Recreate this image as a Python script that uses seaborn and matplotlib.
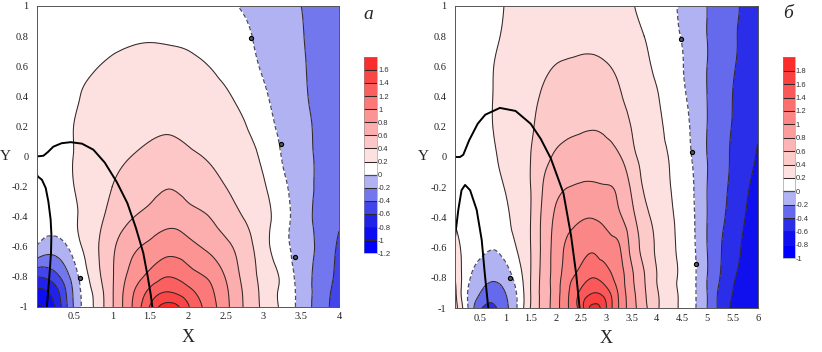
import numpy as np
import matplotlib
matplotlib.use("Agg")
import matplotlib.pyplot as plt
import matplotlib.tri as mtri
from matplotlib.colors import LinearSegmentedColormap
import seaborn as sns

# --- data ---
# grid rows (y) shared by both panels
y_rows = [-1.0, -0.9, -0.8, -0.6, -0.4, -0.2, 0.0, 0.2, 0.4, 0.6, 0.8, 1.0]

# panel a: x = 0 .. 4 step 0.25
x_a = [0, 0.25, 0.5, 0.75, 1.0, 1.25, 1.5, 1.75, 2.0, 2.25, 2.5, 2.75, 3.0, 3.25, 3.5, 3.75, 4.0]
field_a = [
    [-1.05, -0.78, -0.17, 0.20, 0.58, 0.98, 1.42, 1.70, 1.43, 1.14, 0.86, 0.58, 0.36, 0.155, -0.07, -0.30, -0.50],
    [-0.85, -0.68, -0.15, 0.22, 0.58, 0.95, 1.26, 1.40, 1.27, 1.08, 0.84, 0.57, 0.35, 0.15, -0.07, -0.29, -0.48],
    [-0.60, -0.47, -0.09, 0.28, 0.58, 0.87, 1.07, 1.20, 1.10, 0.99, 0.79, 0.54, 0.34, 0.16, -0.09, -0.27, -0.46],
    [-0.01, -0.10, 0.10, 0.34, 0.56, 0.75, 0.845, 0.92, 0.87, 0.77, 0.65, 0.49, 0.28, 0.07, -0.09, -0.25, -0.43],
    [0.08, 0.10, 0.18, 0.32, 0.46, 0.585, 0.665, 0.74, 0.675, 0.61, 0.50, 0.39, 0.265, 0.09, -0.11, -0.25, -0.37],
    [0.06, 0.12, 0.202, 0.30, 0.40, 0.47, 0.53, 0.59, 0.53, 0.47, 0.40, 0.31, 0.22, 0.05, -0.11, -0.24, -0.34],
    [0.05, 0.12, 0.205, 0.27, 0.34, 0.40, 0.445, 0.47, 0.43, 0.39, 0.32, 0.25, 0.165, -0.01, -0.13, -0.24, -0.34],
    [0.05, 0.12, 0.203, 0.24, 0.29, 0.34, 0.37, 0.38, 0.36, 0.32, 0.27, 0.21, 0.09, -0.05, -0.15, -0.24, -0.33],
    [0.06, 0.12, 0.185, 0.225, 0.26, 0.30, 0.32, 0.31, 0.29, 0.26, 0.22, 0.14, 0.03, -0.08, -0.17, -0.25, -0.32],
    [0.07, 0.12, 0.16, 0.19, 0.22, 0.24, 0.25, 0.245, 0.235, 0.205, 0.15, 0.07, -0.02, -0.10, -0.18, -0.25, -0.31],
    [0.07, 0.10, 0.13, 0.15, 0.17, 0.185, 0.19, 0.185, 0.17, 0.13, 0.08, 0.03, -0.05, -0.12, -0.19, -0.25, -0.30],
    [0.07, 0.09, 0.11, 0.13, 0.145, 0.155, 0.16, 0.155, 0.13, 0.09, 0.04, -0.02, -0.08, -0.14, -0.20, -0.25, -0.29],
]

# panel b: x = 0 .. 6 step 0.25
x_b = [0, 0.25, 0.5, 0.75, 1.0, 1.25, 1.5, 1.75, 2.0, 2.25, 2.5, 2.75, 3.0, 3.25, 3.5, 3.75,
       4.0, 4.25, 4.5, 4.75, 5.0, 5.25, 5.5, 5.75, 6.0]
field_b = [
    [0.50, 0.02, -0.37, -0.44, -0.26, 0.03, 0.41, 0.67, 0.92, 1.20, 1.51, 1.88, 1.60, 1.19, 0.89, 0.66, 0.43, 0.29, 0.16, 0.02, -0.202, -0.45, -0.63, -0.70, -0.75],
    [0.45, 0.00, -0.20, -0.31, -0.20, 0.04, 0.40, 0.67, 0.91, 1.19, 1.45, 1.60, 1.49, 1.17, 0.87, 0.63, 0.42, 0.28, 0.16, 0.02, -0.202, -0.44, -0.60, -0.68, -0.73],
    [0.40, 0.05, -0.10, -0.17, -0.10, 0.10, 0.40, 0.67, 0.90, 1.14, 1.29, 1.40, 1.29, 1.11, 0.84, 0.61, 0.40, 0.28, 0.15, 0.02, -0.202, -0.40, -0.57, -0.66, -0.71],
    [0.28, 0.12, 0.05, 0.01, 0.08, 0.22, 0.40, 0.66, 0.88, 1.05, 1.13, 1.17, 1.10, 1.02, 0.74, 0.54, 0.37, 0.26, 0.14, 0.01, -0.202, -0.38, -0.52, -0.63, -0.69],
    [0.18, 0.12, 0.10, 0.10, 0.16, 0.27, 0.40, 0.65, 0.83, 0.93, 0.98, 0.99, 0.93, 0.83, 0.66, 0.47, 0.34, 0.24, 0.13, 0.00, -0.202, -0.35, -0.48, -0.60, -0.67],
    [0.12, 0.10, 0.10, 0.14, 0.21, 0.30, 0.40, 0.61, 0.75, 0.80, 0.82, 0.82, 0.81, 0.76, 0.57, 0.38, 0.29, 0.21, 0.11, -0.01, -0.202, -0.33, -0.45, -0.57, -0.65],
    [0.08, 0.09, 0.12, 0.18, 0.24, 0.32, 0.40, 0.53, 0.63, 0.68, 0.70, 0.71, 0.68, 0.62, 0.46, 0.34, 0.26, 0.19, 0.07, -0.03, -0.202, -0.32, -0.43, -0.54, -0.61],
    [0.07, 0.09, 0.13, 0.20, 0.26, 0.32, 0.38, 0.46, 0.52, 0.56, 0.58, 0.59, 0.57, 0.51, 0.395, 0.32, 0.24, 0.16, 0.06, -0.05, -0.202, -0.31, -0.41, -0.51, -0.58],
    [0.07, 0.09, 0.14, 0.20, 0.26, 0.31, 0.36, 0.42, 0.47, 0.50, 0.51, 0.51, 0.48, 0.42, 0.34, 0.27, 0.21, 0.13, 0.03, -0.07, -0.202, -0.30, -0.40, -0.48, -0.55],
    [0.07, 0.09, 0.13, 0.195, 0.25, 0.29, 0.33, 0.37, 0.405, 0.42, 0.43, 0.43, 0.41, 0.37, 0.31, 0.24, 0.17, 0.10, 0.01, -0.09, -0.202, -0.29, -0.38, -0.46, -0.53],
    [0.07, 0.09, 0.12, 0.17, 0.22, 0.26, 0.29, 0.32, 0.34, 0.355, 0.36, 0.36, 0.34, 0.31, 0.26, 0.20, 0.13, 0.06, -0.01, -0.10, -0.202, -0.28, -0.37, -0.44, -0.51],
    [0.07, 0.09, 0.12, 0.16, 0.205, 0.24, 0.27, 0.29, 0.31, 0.32, 0.32, 0.32, 0.30, 0.27, 0.215, 0.15, 0.09, 0.04, -0.03, -0.11, -0.202, -0.28, -0.36, -0.43, -0.50],
]

levels_a = [-1.2, -1.0, -0.8, -0.6, -0.4, -0.2, 0.0, 0.2, 0.4, 0.6, 0.8, 1.0, 1.2, 1.4, 1.6, 1.8]
levels_b = [-1.0, -0.8, -0.6, -0.4, -0.2, 0.0, 0.2, 0.4, 0.6, 0.8, 1.0, 1.2, 1.4, 1.6, 1.8, 2.0]

# thick black curves
curve1_a_x = [0, 0.09, 0.15, 0.22, 0.33, 0.45, 0.6, 0.75, 0.9, 1.06, 1.2, 1.31, 1.41, 1.47, 1.51, 1.53]
curve1_a_y = [0, 0.005, 0.03, 0.065, 0.088, 0.095, 0.085, 0.045, -0.04, -0.17, -0.31, -0.47, -0.64, -0.8, -0.92, -1.0]
curve2_a_x = [0.0, 0.02, 0.07, 0.12, 0.155, 0.185, 0.195, 0.19, 0.175, 0.155, 0.135]
curve2_a_y = [-0.12, -0.135, -0.155, -0.21, -0.3, -0.42, -0.52, -0.64, -0.75, -0.88, -1.0]
curve1_b_x = [0, 0.1, 0.165, 0.28, 0.45, 0.6, 0.89, 1.2, 1.5, 1.7, 1.9, 2.15, 2.3, 2.4, 2.47]
curve1_b_y = [0, 0.0, 0.015, 0.11, 0.22, 0.28, 0.325, 0.305, 0.22, 0.12, -0.01, -0.24, -0.52, -0.77, -1.0]
curve2_b_x = [0.0, 0.03, 0.066, 0.13, 0.2, 0.3, 0.43, 0.53, 0.59, 0.66]
curve2_b_y = [-0.53, -0.45, -0.35, -0.22, -0.185, -0.22, -0.35, -0.55, -0.77, -1.0]

# small "0" contour labels
zero_marks_a_x = [2.84, 3.23, 3.42, 0.58]
zero_marks_a_y = [0.79, 0.08, -0.67, -0.81]
zero_marks_b_x = [4.48, 4.69, 4.78, 1.09]
zero_marks_b_y = [0.78, 0.03, -0.71, -0.80]


def band_colors(levels):
    lv = np.array(levels)
    mids = (lv[:-1] + lv[1:]) / 2
    n_blue = int((mids < 0).sum())
    n_red = int((mids > 0.2).sum())
    blues = LinearSegmentedColormap.from_list(
        "b", ["#0000ff", "#1010ee", "#2a2ee8", "#6468ec", "#b0b2f2"])
    reds = LinearSegmentedColormap.from_list("r", ["#fde1e1", "#fa2c2c"])
    cols = [blues(t) for t in np.linspace(0, 1, n_blue)]
    cols.append("#ffffff")
    cols += [reds(t) for t in np.linspace(0, 1, n_red)]
    return cols


def smooth_field(xs, ys, zz):
    gx, gy = np.meshgrid(xs, ys)
    tri = mtri.Triangulation(gx.ravel(), gy.ravel())
    refiner = mtri.UniformTriRefiner(tri)
    return refiner.refine_field(np.asarray(zz, dtype=float).ravel(), subdiv=3)


def draw_panel(fig, ax, cax, xs, field, levels, c1, c2, marks, xmax, letter, letter_pos):
    tri_r, z_r = smooth_field(xs, y_rows, field)
    z_r = np.clip(z_r, levels[0] + 1e-3, levels[-1] - 1e-3)
    cf = ax.tricontourf(tri_r, z_r, levels=levels, colors=band_colors(levels))
    line_lv = levels[1:-1]
    styles = [(0, (3.5, 2)) if abs(v) < 1e-9 else "-" for v in line_lv]
    lcol = ["#4a4a66" if abs(v) < 1e-9 else "#332828" for v in line_lv]
    lw = [0.9 if abs(v) < 1e-9 else 0.75 for v in line_lv]
    cs = ax.tricontour(tri_r, z_r, levels=line_lv, colors=lcol,
                       linewidths=lw, linestyles=styles)

    ax.plot(c1[0], c1[1], color="black", lw=1.4, solid_capstyle="round")
    ax.plot(c2[0], c2[1], color="black", lw=1.4, solid_capstyle="round")
    ax.plot(marks[0], marks[1], "o", ms=3.0, mfc="#555555", mec="black", mew=0.8, ls="none")

    ax.set_xlim(0, xmax)
    ax.set_ylim(-1, 1)
    xt = np.arange(0, xmax + 0.01, 0.5)
    ax.set_xticks(xt)
    ax.set_xticklabels([""] + [f"{v:g}" for v in xt[1:]])
    yt = np.round(np.arange(-1, 1.01, 0.2), 1) + 0.0
    ax.set_yticks(yt)
    ax.set_yticklabels([f"{v:g}" for v in yt])
    ax.tick_params(direction="in", length=3, width=0.6, top=True, right=True,
                   labelsize=7.5, colors="#222222")
    ax.tick_params(axis="y", pad=6)
    ax.tick_params(axis="x", pad=4)
    for s in ax.spines.values():
        s.set_linewidth(0.7)
        s.set_color("#555555")

    ax.set_xlabel("X", fontsize=13)
    ax.xaxis.set_label_coords(0.5, -0.1)
    ax.xaxis.label.set_va("center")
    ax.set_ylabel("Y", fontsize=11, rotation=0)
    ax.yaxis.set_label_coords(-0.105, 0.5)
    ax.yaxis.label.set_va("center")

    cb = fig.colorbar(cf, cax=cax, ticks=levels[:-1])
    cb.add_lines(cs)
    cb.ax.set_yticklabels([f"{v:g}" for v in levels[:-1]],
                          fontfamily="Liberation Sans", fontsize=5.5)
    cb.ax.tick_params(length=0, pad=0.5, colors="#333333")
    cb.outline.set_linewidth(0.4)
    cb.outline.set_edgecolor("#888888")

    fig.text(letter_pos[0], letter_pos[1], letter, fontsize=14, style="italic",
             ha="center", va="center", family="Liberation Serif")


def main():
    sns.set_style("white")
    plt.rcParams["font.family"] = ["Liberation Serif", "DejaVu Serif"]
    plt.rcParams["axes.unicode_minus"] = False

    fig = plt.figure(figsize=(8.22, 3.52), dpi=100)
    ax_a = fig.add_axes([0.0446, 0.128, 0.3678, 0.855])
    cax_a = fig.add_axes([0.4428, 0.2804, 0.0162, 0.5585])
    ax_b = fig.add_axes([0.5535, 0.125, 0.3683, 0.858])
    cax_b = fig.add_axes([0.9522, 0.2662, 0.015, 0.571])

    draw_panel(fig, ax_a, cax_a, x_a, field_a, levels_a,
               (curve1_a_x, curve1_a_y), (curve2_a_x, curve2_a_y),
               (zero_marks_a_x, zero_marks_a_y), 4.0, "а", (0.4477, 0.958))
    draw_panel(fig, ax_b, cax_b, x_b, field_b, levels_b,
               (curve1_b_x, curve1_b_y), (curve2_b_x, curve2_b_y),
               (zero_marks_b_x, zero_marks_b_y), 6.0, "б", (0.9586, 0.962))

    fig.savefig("out.png", dpi=100, facecolor="white")
    plt.close(fig)


if __name__ == "__main__":
    main()
